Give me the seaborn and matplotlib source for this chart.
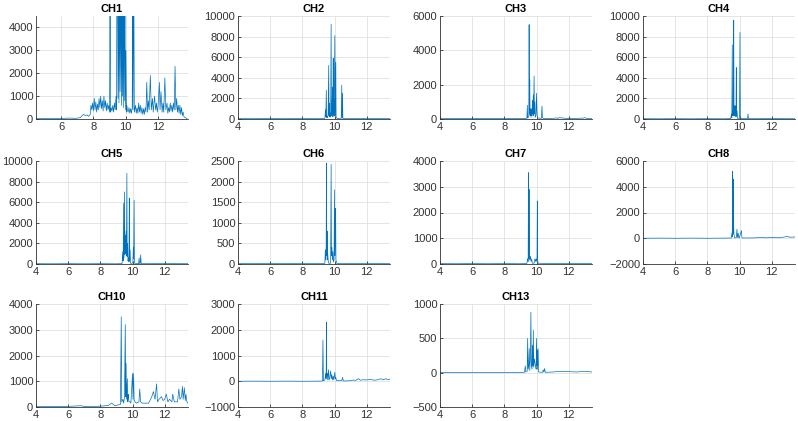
import matplotlib
matplotlib.use("Agg")
import matplotlib.pyplot as plt
import seaborn as sns

# ---------------- data ----------------
ch1_x = [4.45, 5.0, 5.5, 6.0, 6.5, 6.9, 7.2, 7.3, 7.4, 7.5,
         7.6, 7.7, 7.8, 7.85, 7.9, 7.95, 8.0, 8.05, 8.1, 8.15,
         8.2, 8.25, 8.3, 8.35, 8.4, 8.45, 8.5, 8.55, 8.6, 8.65,
         8.7, 8.75, 8.8, 8.85, 8.9, 8.95, 9.0, 9.03, 9.06, 9.1,
         9.15, 9.2, 9.25, 9.3, 9.35, 9.4, 9.43, 9.45, 9.49, 9.52,
         9.55, 9.58, 9.61, 9.65, 9.7, 9.73, 9.76, 9.79, 9.82, 9.85,
         9.88, 9.91, 9.95, 9.98, 10.01, 10.04, 10.07, 10.1,
         10.15, 10.2, 10.25, 10.3, 10.35, 10.4, 10.43, 10.45, 10.5, 10.53,
         10.6, 10.65, 10.7, 10.75, 10.8, 10.85, 10.9, 10.95, 11.0, 11.05,
         11.1, 11.15, 11.2, 11.25, 11.3, 11.35, 11.4, 11.45, 11.52, 11.58,
         11.65, 11.7, 11.78, 11.85, 11.9, 11.95, 12.0, 12.08, 12.12, 12.18,
         12.25, 12.3, 12.35, 12.42, 12.48, 12.55, 12.6, 12.65, 12.7, 12.75,
         12.8, 12.85, 12.9, 12.95, 13.0, 13.05, 13.1, 13.15, 13.2, 13.25,
         13.3, 13.35, 13.4, 13.45, 13.5, 13.55, 13.6, 13.7, 13.8]
ch1_y = [30, 20, 30, 25, 40, 30, 60, 150, 200, 150,
         180, 120, 200, 600, 400, 700, 350, 900, 400, 750,
         300, 650, 400, 900, 500, 1000, 450, 800, 350, 1000,
         500, 800, 350, 700, 400, 600, 300, 6000, 300, 500,
         350, 600, 300, 700, 400, 1000, 400, 6000, 6000, 900,
         6000, 700, 6000, 1200, 6000, 600, 6000, 1000, 6000, 500,
         6000, 800, 6000, 400, 3000, 300, 600, 400,
         300, 500, 250, 450, 250, 500, 6000, 400, 6000, 300,
         600, 250, 500, 250, 700, 300, 600, 250, 500, 200,
         450, 200, 500, 300, 1600, 300, 800, 400, 1900, 400,
         900, 300, 1000, 400, 700, 300, 600, 1600, 400, 1200,
         300, 700, 300, 1800, 400, 700, 250, 500, 300, 700,
         350, 600, 300, 700, 400, 2300, 400, 900, 300, 600,
         250, 600, 200, 500, 150, 300, 100, 50, 20]

ch2_x = [4.0, 5.0, 6.0, 7.0, 8.0, 9.0, 9.40,
         9.44, 9.46, 9.49, 9.51, 9.53, 9.56, 9.60, 9.64,
         9.66, 9.68, 9.70, 9.72, 9.76, 9.79, 9.81, 9.84,
         9.88, 9.90, 9.92, 9.94, 9.96, 9.98, 10.02, 10.05,
         10.08, 10.10, 10.12, 10.20, 10.42, 10.45, 10.47, 10.50,
         10.52, 10.60, 11.5, 12.5, 13.45]
ch2_y = [40, 30, 40, 30, 40, 30, 60,
         900, 200, 2800, 150, 300, 100, 400, 5200,
         300, 1500, 200, 600, 200, 9200, 300, 800,
         3100, 200, 5900, 400, 2000, 300, 8100, 300,
         5500, 200, 100, 40, 80, 3300, 100, 2500,
         60, 40, 40, 40, 40]

ch3_x = [4.0, 5.0, 6.0, 7.0, 8.0, 9.0,
         9.40, 9.43, 9.45, 9.47,
         9.52, 9.54, 9.56, 9.58, 9.60, 9.62,
         9.66, 9.70, 9.72, 9.75, 9.77,
         9.80, 9.82, 9.85, 9.87,
         9.90, 9.92, 9.97, 10.00, 10.03, 10.06,
         10.30, 10.34, 10.37, 10.50,
         11.0, 11.3, 11.35, 11.4,
         11.8, 12.0, 12.05, 12.1,
         12.5, 12.9, 13.0, 13.1, 13.45]
ch3_y = [30, 20, 30, 20, 30, 20,
         40, 800, 100, 60,
         200, 5500, 300, 2300, 200, 600,
         100, 600, 200, 1100, 300,
         1400, 200, 2500, 300,
         1000, 100, 200, 1500, 400, 60,
         40, 750, 50, 30,
         40, 60, 30, 80,
         40, 30, 90, 30,
         40, 50, 80, 40, 30]

ch4_x = [4.0, 5.0, 6.0, 7.0, 8.0, 9.0, 9.45,
         9.50, 9.52, 9.55, 9.57, 9.60, 9.62, 9.64, 9.66,
         9.68, 9.70, 9.72, 9.74, 9.76, 9.78, 9.80, 9.82,
         9.85, 9.88, 10.00, 10.03, 10.05, 10.08, 10.50, 10.53,
         10.56, 11.0, 12.0, 13.0, 13.45]
ch4_y = [30, 20, 30, 20, 30, 20, 40,
         500, 100, 7200, 300, 800, 300, 9600, 500,
         1200, 300, 1300, 400, 1000, 200, 5000, 300,
         800, 60, 40, 8400, 200, 40, 40, 500,
         30, 30, 40, 30, 30]

ch5_x = [4.0, 5.0, 6.0, 7.0, 8.0, 9.0, 9.35,
         9.40, 9.42, 9.45, 9.47, 9.50, 9.52, 9.55, 9.57,
         9.60, 9.62, 9.65, 9.67, 9.70, 9.72, 9.75, 9.78,
         9.80, 9.82, 9.85, 9.88, 10.02, 10.05, 10.07, 10.10,
         10.12, 10.38, 10.41, 10.44, 10.48, 10.51, 10.54, 11.0, 12.0, 13.0, 13.45]
ch5_y = [30, 20, 30, 20, 30, 20, 40,
         1200, 300, 5900, 600, 7000, 900, 2800, 1000,
         3200, 800, 8800, 700, 2000, 300, 600, 200,
         6400, 300, 1400, 60, 100, 1600, 500, 6200,
         80, 30, 600, 40, 60, 900, 30, 30, 40, 30, 30]

ch6_x = [4.0, 5.0, 6.0, 7.0, 8.0, 9.0, 9.40,
         9.43, 9.46, 9.48, 9.50, 9.52, 9.54, 9.56, 9.58,
         9.62, 9.66, 9.76, 9.79, 9.81, 9.84, 9.87, 9.90,
         9.93, 9.97, 10.00, 10.02, 10.04, 10.07, 10.09, 10.12,
         10.15, 11.0, 12.0, 13.0, 13.45]
ch6_y = [10, 8, 10, 8, 10, 8, 15,
         350, 100, 250, 2450, 200, 800, 100, 250,
         30, 15, 20, 2420, 200, 400, 100, 300,
         50, 100, 1800, 200, 600, 1350, 100, 50,
         10, 10, 8, 10, 10]

ch7_x = [4.0, 5.0, 6.0, 7.0, 8.0, 9.0, 9.40,
         9.45, 9.48, 9.50, 9.52, 9.54, 9.56, 9.58, 9.62,
         9.66, 9.70, 9.74, 9.85, 9.90, 9.94, 9.98, 10.01,
         10.03, 10.05, 10.07, 10.10, 11.0, 12.0, 13.0, 13.45]
ch7_y = [15, 10, 15, 10, 15, 10, 20,
         200, 100, 3550, 200, 2900, 300, 150, 300,
         100, 200, 30, 30, 200, 100, 200, 100,
         200, 2450, 150, 30, 15, 20, 15, 15]

ch8_x = [4.0, 5.0, 6.0, 7.0, 8.0, 9.0, 9.50,
         9.53, 9.55, 9.57, 9.59, 9.61, 9.63, 9.65, 9.68,
         9.70, 9.74, 9.80, 9.84, 9.87, 9.92, 9.95, 9.98,
         10.12, 10.15, 10.18, 10.50, 11.0, 11.5, 11.6, 12.0,
         12.5, 12.8, 13.0, 13.1, 13.45]
ch8_y = [0, 10, 0, 10, 0, 10, 20,
         400, 100, 5200, 300, 4600, 1500, 400, 100,
         30, 20, 50, 700, 50, 400, 50, 20,
         600, 50, 20, 20, 30, 80, 30, 60,
         40, 100, 150, 80, 100]

ch10_x = [4.0, 5.0, 6.0, 6.8, 7.0, 8.0, 8.5, 8.7, 8.8, 8.9, 9.1, 9.25,
          9.30, 9.33, 9.40, 9.45, 9.50, 9.55, 9.58, 9.60, 9.63, 9.68, 9.70, 9.73,
          9.75, 9.78, 9.85, 9.90, 10.00, 10.03, 10.07, 10.10, 10.15, 10.25, 10.40, 10.45,
          10.50, 10.60, 10.80, 11.00, 11.20, 11.30, 11.40, 11.50, 11.55, 11.65, 11.80, 11.90,
          12.00, 12.10, 12.20, 12.30, 12.45, 12.50, 12.60, 12.80, 12.88, 12.95, 13.05, 13.10,
          13.15, 13.22, 13.28, 13.32, 13.38, 13.45]
ch10_y = [20, 15, 25, 50, 20, 30, 60, 150, 100, 50, 80, 100,
          3500, 200, 300, 150, 400, 3200, 400, 1700, 300, 1100, 200, 500,
          400, 200, 200, 150, 1300, 300, 1300, 300, 200, 150, 200, 700,
          200, 150, 150, 150, 400, 600, 300, 900, 200, 300, 400, 250,
          300, 500, 200, 300, 200, 500, 200, 200, 700, 300, 400, 800,
          300, 750, 250, 500, 200, 150]

ch11_x = [4.0, 5.0, 6.0, 7.0, 8.0, 9.0, 9.25,
          9.28, 9.31, 9.40, 9.45, 9.48, 9.50, 9.52, 9.55,
          9.58, 9.63, 9.66, 9.70, 9.76, 9.80, 9.83, 9.88,
          9.92, 9.96, 10.02, 10.05, 10.08, 10.12, 10.45, 10.50,
          10.55, 11.0, 11.2, 11.3, 11.5, 11.6, 11.8, 12.0,
          12.2, 12.5, 12.7, 12.9, 13.0, 13.2, 13.3, 13.45]
ch11_y = [0, 5, 0, 5, 0, 5, 10,
          1600, 20, 50, 300, 100, 2300, 200, 300,
          50, 450, 50, 100, 400, 100, 250, 50,
          200, 50, 350, 100, 150, 30, 20, 150,
          10, 20, 50, 30, 100, 40, 60, 50,
          70, 40, 60, 100, 50, 100, 60, 80]

ch13_x = [4.0, 5.0, 6.0, 7.0, 8.0, 9.0, 9.25,
          9.30, 9.33, 9.42, 9.45, 9.48, 9.52, 9.55, 9.58,
          9.62, 9.65, 9.68, 9.72, 9.75, 9.78, 9.80, 9.83,
          9.87, 9.90, 9.94, 9.98, 10.00, 10.03, 10.05, 10.07,
          10.10, 10.13, 10.38, 10.42, 10.46, 10.50, 10.55, 11.0,
          11.5, 12.0, 12.5, 13.0, 13.45]
ch13_y = [5, 3, 5, 3, 5, 3, 5,
          100, 10, 20, 500, 50, 100, 350, 30,
          200, 880, 100, 50, 400, 100, 620, 80,
          200, 150, 100, 50, 500, 100, 330, 50,
          350, 10, 5, 40, 10, 60, 5, 10,
          20, 15, 10, 20, 10]

titles = ["CH1", "CH2", "CH3", "CH4", "CH5", "CH6", "CH7", "CH8",
          "CH10", "CH11", "CH13"]
series_x = [ch1_x, ch2_x, ch3_x, ch4_x, ch5_x, ch6_x, ch7_x, ch8_x,
            ch10_x, ch11_x, ch13_x]
series_y = [ch1_y, ch2_y, ch3_y, ch4_y, ch5_y, ch6_y, ch7_y, ch8_y,
            ch10_y, ch11_y, ch13_y]
y_limits = [(0, 4500), (0, 10000), (0, 6000), (0, 10000), (0, 10000),
            (0, 2500), (0, 4000), (-2000, 6000), (0, 4000), (-1000, 3000),
            (-500, 1000)]
y_ticks = [[0, 1000, 2000, 3000, 4000],
           [0, 2000, 4000, 6000, 8000, 10000],
           [0, 2000, 4000, 6000],
           [0, 2000, 4000, 6000, 8000, 10000],
           [0, 2000, 4000, 6000, 8000, 10000],
           [0, 500, 1000, 1500, 2000, 2500],
           [0, 1000, 2000, 3000, 4000],
           [-2000, 0, 2000, 4000, 6000],
           [0, 1000, 2000, 3000, 4000],
           [-1000, 0, 1000, 2000, 3000],
           [-500, 0, 500, 1000]]
x_limits = [(4.45, 13.85)] + [(4.0, 13.45)] * 10
x_ticks = [[6, 8, 10, 12]] + [[4, 6, 8, 10, 12]] * 10

# ---------------- styling ----------------
sns.set_theme(style="whitegrid")
plt.rcParams["font.family"] = ["Liberation Sans", "DejaVu Sans"]
line_color = "#0072BD"
text_color = "#333333"

fig = plt.figure(figsize=(7.98, 4.21), dpi=100)
W, H = 798.0, 421.0
col_left = [36, 238, 440, 643]
row_top = [16, 161, 304]
ax_w, ax_h = 152, 103

for i, title in enumerate(titles):
    r, c = divmod(i, 4)
    left = col_left[c] / W
    bottom = 1 - (row_top[r] + ax_h) / H
    ax = fig.add_axes([left, bottom, ax_w / W, ax_h / H])
    sns.lineplot(x=series_x[i], y=series_y[i], ax=ax, color=line_color,
                 linewidth=0.5, estimator=None, sort=False)
    ax.set_xlim(*x_limits[i])
    ax.set_ylim(*y_limits[i])
    ax.set_xticks(x_ticks[i])
    ax.set_yticks(y_ticks[i])
    ax.set_xlabel("")
    ax.set_ylabel("")
    ax.set_title(title, fontsize=8, fontweight="bold", color="black", pad=3)
    ax.set_facecolor("white")
    ax.grid(True, color="#e0e0e0", linewidth=0.6)
    ax.set_axisbelow(True)
    for side in ["top", "right"]:
        ax.spines[side].set_visible(False)
    for side in ["left", "bottom"]:
        ax.spines[side].set_visible(True)
        ax.spines[side].set_color(text_color)
        ax.spines[side].set_linewidth(0.6)
    ax.tick_params(axis="both", direction="in", length=2.5, width=0.6,
                   colors=text_color, labelsize=8, pad=2, left=True,
                   bottom=True)

fig.savefig("out.png", dpi=100)
